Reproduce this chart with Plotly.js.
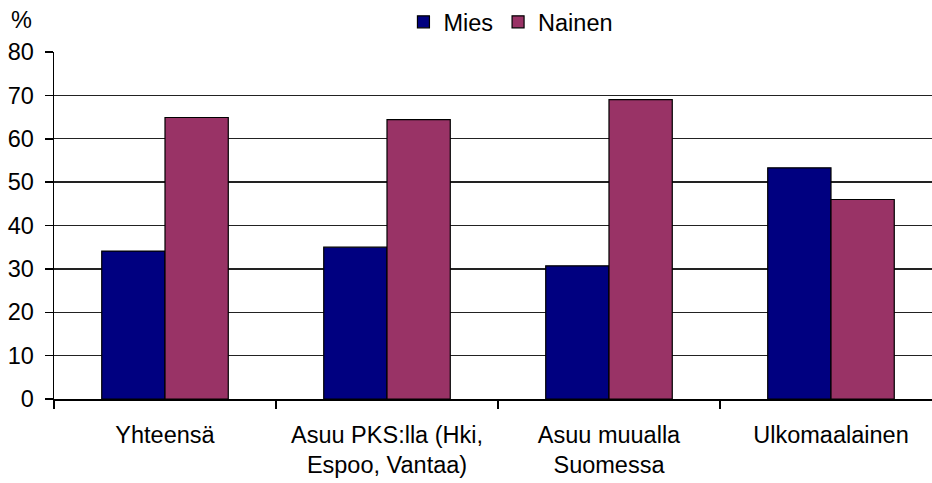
<!DOCTYPE html>
<html>
<head>
<meta charset="utf-8">
<script src="https://cdn.plot.ly/plotly-3.0.1.min.js"></script>
<style>html,body{margin:0;padding:0;background:#fff;}#chart{width:932px;height:483px;}</style>
</head>
<body>
<div id="chart"></div>
<script>
const categories = ["Yhteensä", "Asuu PKS:lla (Hki,<br>Espoo, Vantaa)", "Asuu muualla<br>Suomessa", "Ulkomaalainen"];
const mies = [34.1, 35.0, 30.7, 53.3];
const nainen = [64.9, 64.4, 69.0, 46.0];
const yTicks = [0, 10, 20, 30, 40, 50, 60, 70, 80];

const FONT = "Liberation Sans, Arial, sans-serif";
const FS = 23.5;
const traces = [
  {type: "bar", name: "Mies", x: categories, y: mies,
   marker: {color: "#000080", line: {color: "#000", width: 1.2}}},
  {type: "bar", name: "Nainen", x: categories, y: nainen,
   marker: {color: "#993366", line: {color: "#000", width: 1.2}}}
];
const layout = {
  width: 932, height: 483,
  margin: {l: 54, r: 0, t: 52, b: 84, pad: 0},
  paper_bgcolor: "#fff", plot_bgcolor: "#fff",
  font: {family: FONT, size: FS, color: "#000"},
  barmode: "group", bargap: 0.43, bargroupgap: 0,
  showlegend: true,
  legend: {orientation: "h", x: 0.398, xanchor: "left", y: 1.15, yanchor: "top",
           font: {family: FONT, size: FS, color: "#000"}, itemclick: false,
           tracegroupgap: 0, itemwidth: 30},
  xaxis: {type: "category", range: [-0.5, 3.455], tickson: "boundaries",
          ticks: "outside", ticklen: 8, tickcolor: "#000", tickwidth: 1.5,
          showline: true, linecolor: "#000", linewidth: 1.5,
          showgrid: false, zeroline: false, ticklabelstandoff: 14,
          tickfont: {family: FONT, size: FS, color: "#000"}},
  yaxis: {range: [0, 80], tickvals: yTicks, ticktext: yTicks.map(String),
          ticks: "outside", ticklen: 8, tickcolor: "#000", tickwidth: 1.5,
          showline: true, linecolor: "#000", linewidth: 1.5,
          showgrid: true, gridcolor: "#222", gridwidth: 1.3, zeroline: false,
          ticklabelstandoff: 6,
          tickfont: {family: FONT, size: FS, color: "#000"}},
  annotations: [{text: "%", xref: "paper", yref: "paper", x: -0.037, y: 1.092,
                 xanchor: "center", yanchor: "middle", showarrow: false,
                 font: {family: FONT, size: FS, color: "#000"}}]
};
Plotly.newPlot("chart", traces, layout, {displayModeBar: false, staticPlot: true});
</script>
</body>
</html>
